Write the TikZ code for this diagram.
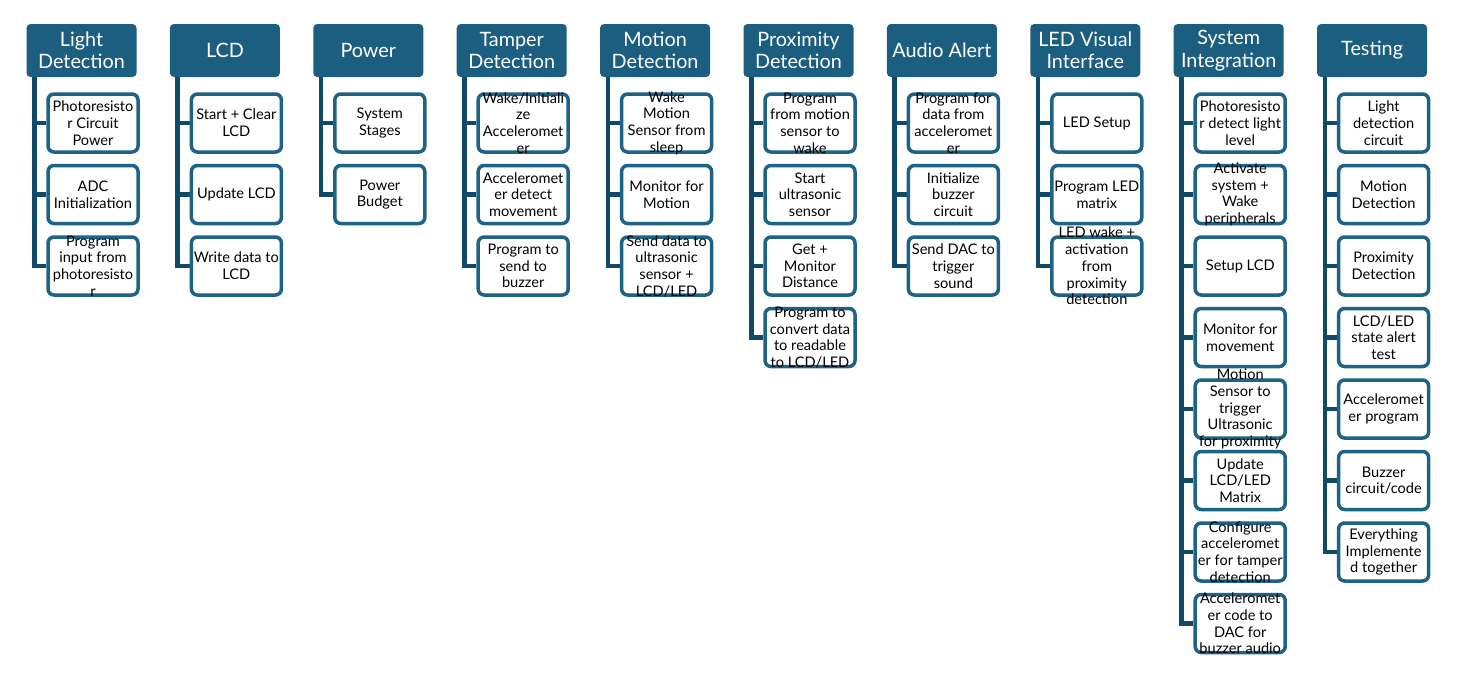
\documentclass[tikz,border=0pt]{standalone}
\usepackage{fontspec}
\setmainfont{Lato}
\usetikzlibrary{backgrounds}

\definecolor{hdblue}{RGB}{27,94,128}
\definecolor{spblue}{RGB}{16,74,102}
\definecolor{bxblue}{RGB}{30,98,134}

\tikzset{
  head/.style={fill=hdblue, text=white, rounded corners=4pt, minimum width=110pt,
    minimum height=53pt, inner sep=0pt, align=center, font=\fontsize{19.8}{22.5}\selectfont},
  item/.style={draw=bxblue, fill=white, line width=3.5pt, rounded corners=6pt,
    minimum width=90pt, minimum height=58pt, inner sep=0pt},
  txt/.style={align=center, inner sep=0pt, font=\fontsize{14.6}{16.7}\selectfont},
  spine/.style={draw=spblue, line width=4.5pt}
}

\begin{document}
\begin{tikzpicture}[x=1pt, y=-1pt]

\useasboundingbox (0,0) rectangle (1458,688);

% headers
\node[head] (ld) at (81.5,50.5) {Light\\Detection};
\node[head] (lcd) at (224.9,50.5) {LCD};
\node[head] (pw) at (368.3,50.5) {Power};
\node[head] (td) at (511.7,50.5) {Tamper\\Detection};
\node[head] (md) at (655.1,50.5) {Motion\\Detection};
\node[head] (pd) at (798.5,50.5) {Proximity\\Detection};
\node[head] (aa) at (941.9,50.5) {Audio Alert};
\node[head] (led) at (1085.3,50.5) {LED Visual\\Interface};
\node[head] (si) at (1228.7,50.5) {System\\Integration};
\node[head] (ts) at (1372.1,50.5) {Testing};

% Light Detection
\node[item, label={[txt]center:Photoresisto\\r Circuit\\Power}] (ld1) at (93,123) {};
\node[item, label={[txt]center:ADC\\Initialization}] (ld2) at (93,194.5) {};
\node[item, label={[txt]center:Program\\input from\\photoresisto\\r}] (ld3) at (93,266) {};

% LCD
\node[item, label={[txt]center:Start + Clear\\LCD}] (lcd1) at (236.4,123) {};
\node[item, label={[txt]center:Update LCD}] (lcd2) at (236.4,194.5) {};
\node[item, label={[txt]center:Write data to\\LCD}] (lcd3) at (236.4,266) {};

% Power
\node[item, label={[txt]center:System\\Stages}] (pw1) at (379.8,123) {};
\node[item, label={[txt]center:Power\\Budget}] (pw2) at (379.8,194.5) {};

% Tamper Detection
\node[item, label={[txt]center:Wake/Initiali\\ze\\Acceleromet\\er}] (td1) at (523.2,123) {};
\node[item, label={[txt]center:Acceleromet\\er detect\\movement}] (td2) at (523.2,194.5) {};
\node[item, label={[txt]center:Program to\\send to\\buzzer}] (td3) at (523.2,266) {};

% Motion Detection
\node[item, label={[txt]center:Wake\\Motion\\Sensor from\\sleep}] (md1) at (666.6,123) {};
\node[item, label={[txt]center:Monitor for\\Motion}] (md2) at (666.6,194.5) {};
\node[item, label={[txt]center:Send data to\\ultrasonic\\sensor +\\LCD/LED}] (md3) at (666.6,266) {};

% Proximity Detection
\node[item, label={[txt]center:Program\\from motion\\sensor to\\wake}] (pd1) at (810,123) {};
\node[item, label={[txt]center:Start\\ultrasonic\\sensor}] (pd2) at (810,194.5) {};
\node[item, label={[txt]center:Get +\\Monitor\\Distance}] (pd3) at (810,266) {};
\node[item, label={[txt]center:Program to\\convert data\\to readable\\to LCD/LED}] (pd4) at (810,337.5) {};

% Audio Alert
\node[item, label={[txt]center:Program for\\data from\\acceleromet\\er}] (aa1) at (953.4,123) {};
\node[item, label={[txt]center:Initialize\\buzzer\\circuit}] (aa2) at (953.4,194.5) {};
\node[item, label={[txt]center:Send DAC to\\trigger\\sound}] (aa3) at (953.4,266) {};

% LED Visual Interface
\node[item, label={[txt]center:LED Setup}] (led1) at (1096.8,123) {};
\node[item, label={[txt]center:Program LED\\matrix}] (led2) at (1096.8,194.5) {};
\node[item, label={[txt]center:LED wake +\\activation\\from\\proximity\\detection}] (led3) at (1096.8,266) {};

% System Integration
\node[item, label={[txt]center:Photoresisto\\r detect light\\level}] (si1) at (1240.2,123) {};
\node[item, label={[txt]center:Activate\\system +\\Wake\\peripherals}] (si2) at (1240.2,194.5) {};
\node[item, label={[txt]center:Setup LCD}] (si3) at (1240.2,266) {};
\node[item, label={[txt]center:Monitor for\\movement}] (si4) at (1240.2,337.5) {};
\node[item, label={[txt]center:Motion\\Sensor to\\trigger\\Ultrasonic\\for proximity}] (si5) at (1240.2,409) {};
\node[item, label={[txt]center:Update\\LCD/LED\\Matrix}] (si6) at (1240.2,480.5) {};
\node[item, label={[txt]center:Configure\\acceleromet\\er for tamper\\detection}] (si7) at (1240.2,552) {};
\node[item, label={[txt]center:Acceleromet\\er code to\\DAC for\\buzzer audio}] (si8) at (1240.2,623.5) {};

% Testing
\node[item, label={[txt]center:Light\\detection\\circuit}] (ts1) at (1383.6,123) {};
\node[item, label={[txt]center:Motion\\Detection}] (ts2) at (1383.6,194.5) {};
\node[item, label={[txt]center:Proximity\\Detection}] (ts3) at (1383.6,266) {};
\node[item, label={[txt]center:LCD/LED\\state alert\\test}] (ts4) at (1383.6,337.5) {};
\node[item, label={[txt]center:Acceleromet\\er program}] (ts5) at (1383.6,409) {};
\node[item, label={[txt]center:Buzzer\\circuit/code}] (ts6) at (1383.6,480.5) {};
\node[item, label={[txt]center:Everything\\Implemente\\d together}] (ts7) at (1383.6,552) {};

% spines behind the boxes
\begin{scope}[on background layer]
\draw[spine] ([xshift=8pt]ld.south west) |- (ld1.west)
  ([xshift=8pt]ld.south west) |- (ld2.west)
  ([xshift=8pt]ld.south west) |- (ld3.west);
\draw[spine] ([xshift=8pt]lcd.south west) |- (lcd1.west)
  ([xshift=8pt]lcd.south west) |- (lcd2.west)
  ([xshift=8pt]lcd.south west) |- (lcd3.west);
\draw[spine] ([xshift=8pt]pw.south west) |- (pw1.west)
  ([xshift=8pt]pw.south west) |- (pw2.west);
\draw[spine] ([xshift=8pt]td.south west) |- (td1.west)
  ([xshift=8pt]td.south west) |- (td2.west)
  ([xshift=8pt]td.south west) |- (td3.west);
\draw[spine] ([xshift=8pt]md.south west) |- (md1.west)
  ([xshift=8pt]md.south west) |- (md2.west)
  ([xshift=8pt]md.south west) |- (md3.west);
\draw[spine] ([xshift=8pt]pd.south west) |- (pd1.west)
  ([xshift=8pt]pd.south west) |- (pd2.west)
  ([xshift=8pt]pd.south west) |- (pd3.west)
  ([xshift=8pt]pd.south west) |- (pd4.west);
\draw[spine] ([xshift=8pt]aa.south west) |- (aa1.west)
  ([xshift=8pt]aa.south west) |- (aa2.west)
  ([xshift=8pt]aa.south west) |- (aa3.west);
\draw[spine] ([xshift=8pt]led.south west) |- (led1.west)
  ([xshift=8pt]led.south west) |- (led2.west)
  ([xshift=8pt]led.south west) |- (led3.west);
\draw[spine] ([xshift=8pt]si.south west) |- (si1.west)
  ([xshift=8pt]si.south west) |- (si2.west)
  ([xshift=8pt]si.south west) |- (si3.west)
  ([xshift=8pt]si.south west) |- (si4.west)
  ([xshift=8pt]si.south west) |- (si5.west)
  ([xshift=8pt]si.south west) |- (si6.west)
  ([xshift=8pt]si.south west) |- (si7.west)
  ([xshift=8pt]si.south west) |- (si8.west);
\draw[spine] ([xshift=8pt]ts.south west) |- (ts1.west)
  ([xshift=8pt]ts.south west) |- (ts2.west)
  ([xshift=8pt]ts.south west) |- (ts3.west)
  ([xshift=8pt]ts.south west) |- (ts4.west)
  ([xshift=8pt]ts.south west) |- (ts5.west)
  ([xshift=8pt]ts.south west) |- (ts6.west)
  ([xshift=8pt]ts.south west) |- (ts7.west);
\end{scope}

\end{tikzpicture}
\end{document}
